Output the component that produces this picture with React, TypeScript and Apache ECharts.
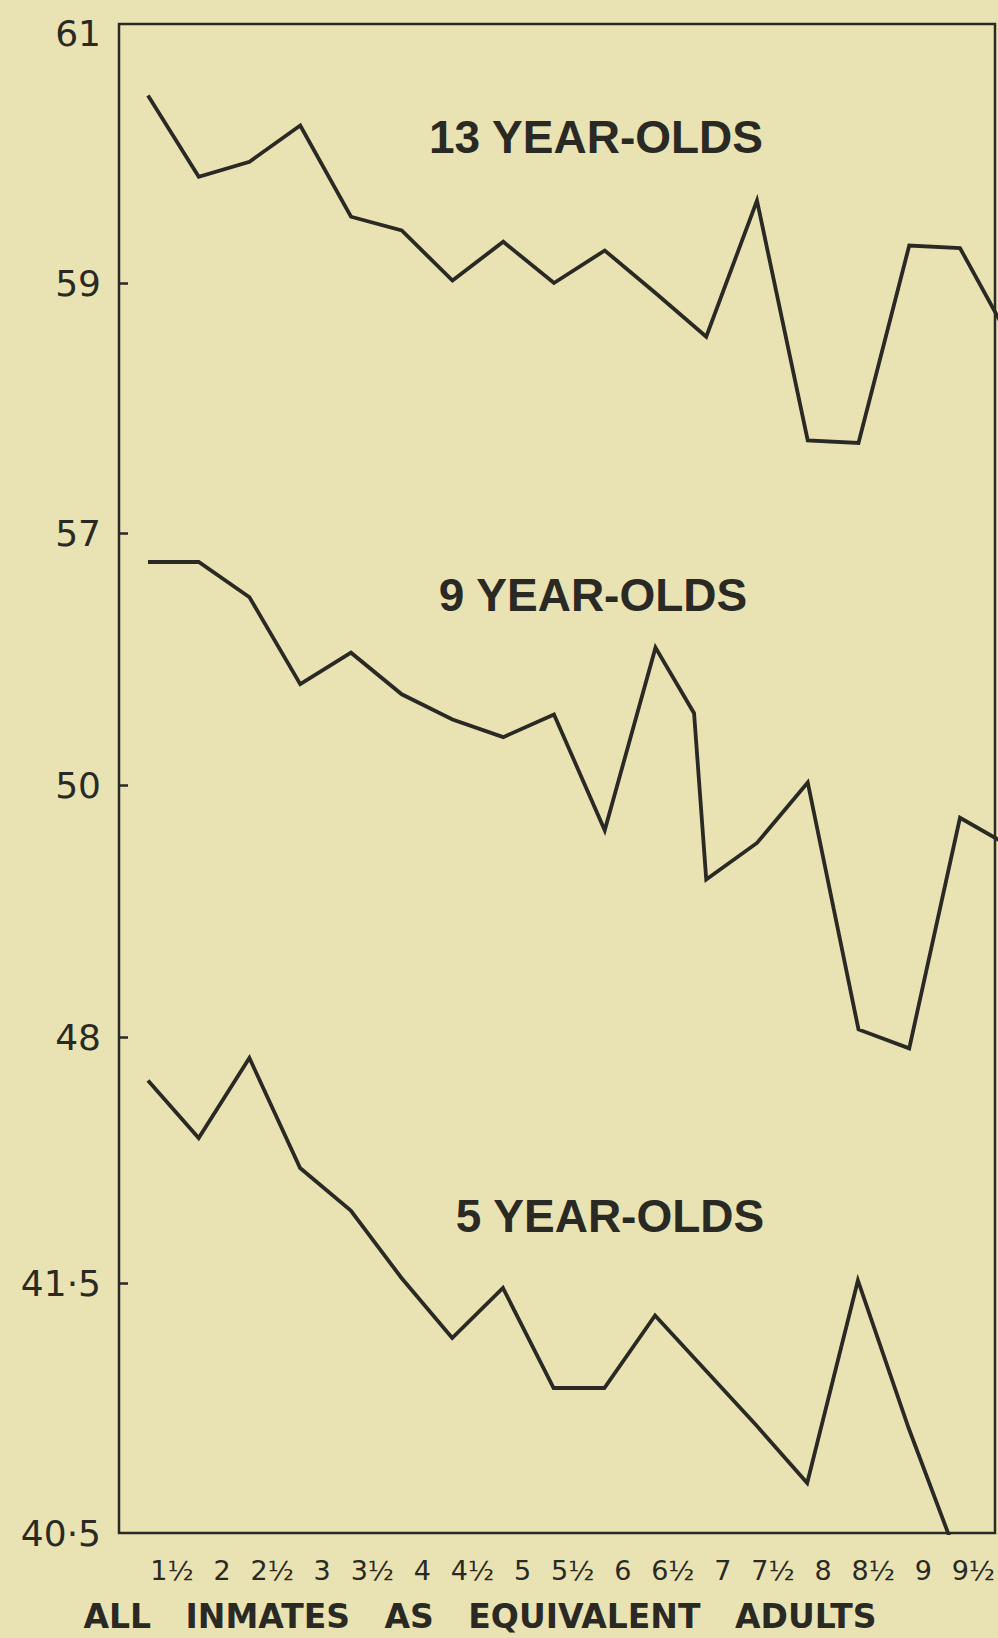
import React, { useEffect, useRef } from 'react';
import * as echarts from 'echarts';

// ---- data ----
const ages = [1.5, 2, 2.5, 3, 3.5, 4, 4.5, 5, 5.5, 6, 6.5, 7, 7.5, 8, 8.5, 9, 9.5, 10];
const xTickValues = [1.5, 2, 2.5, 3, 3.5, 4, 4.5, 5, 5.5, 6, 6.5, 7, 7.5, 8, 8.5, 9, 9.5];
const xTickLabels = ['1½', '2', '2½', '3', '3½', '4', '4½', '5', '5½', '6', '6½', '7', '7½', '8', '8½', '9', '9½'];
const yTicks13 = [57, 59, 61];
const yTicks9 = [48, 50];
const yTicks5 = [40.5, 41.5];

const thirteenYearOlds = [60.5, 59.85, 59.97, 60.26, 59.53, 59.42, 59.02, 59.33, 59.0, 59.26, 58.92, 58.57, 59.66, 57.74, 57.72, 59.3, 59.28, 58.54];
const nineYearOlds = [51.77, 51.77, 51.49, 50.8, 51.05, 50.72, 50.52, 50.38, 50.56, 49.64, 51.09, 49.25, 49.54, 50.02, 48.06, 47.91, 49.74, 49.51];
const nineYearOldsKink = [6.88, 50.57]; // extra bend drawn in the 9 year-olds line just before 7
const fiveYearOlds = [42.31, 42.08, 42.4, 41.96, 41.79, 41.52, 41.28, 41.48, 41.08, 41.08, 41.37, 41.15, 40.93, 40.7, 41.51, 40.92, 40.38, null];

const seriesNames = ['13 YEAR-OLDS', '9 YEAR-OLDS', '5 YEAR-OLDS'];
const xAxisTitle = 'ALL   INMATES   AS   EQUIVALENT   ADULTS';

// ---- styling ----
const INK = '#2a2924';
const BG = '#e9e3b3';
const TICK_FONT = 'DejaVu Sans';

const pairs = (vals: (number | null)[]) =>
  ages.map((a, i) => [a, vals[i]]).filter((p) => p[1] !== null && p[1] !== undefined);

const fmtY = (v: number) => String(v).replace('.', '·');

export default function App() {
  const ref = useRef<HTMLDivElement>(null);

  useEffect(() => {
    document.body.style.margin = '0';
    document.body.style.background = BG;
    if (!ref.current) return;
    const chart = echarts.init(ref.current, undefined, { renderer: 'svg' });

    const ninePairs = pairs(nineYearOlds);
    ninePairs.push(nineYearOldsKink);
    ninePairs.sort((a: any, b: any) => a[0] - b[0]);

    const X_MIN = 1.2143;
    const X_MAX = 9.845;

    const yAxis = (gridIndex: number, min: number, max: number, labels: number[], ticks: number[]) => ({
      type: 'value',
      gridIndex,
      min,
      max,
      axisLine: { show: false },
      splitLine: { show: false },
      axisTick: {
        show: true,
        inside: true,
        length: 9,
        customValues: ticks,
        lineStyle: { color: INK, width: 2.5 },
      },
      axisLabel: {
        customValues: labels,
        formatter: (v: number) => (labels.indexOf(v) >= 0 ? fmtY(v) : ''),
        margin: 18,
        fontSize: 36,
        fontFamily: TICK_FONT,
        color: INK,
      },
    });

    const lineStyle = { color: INK, width: 3.8, join: 'miter' };

    const option: any = {
      animation: false,
      backgroundColor: BG,
      grid: [
        { left: 119, right: 3, top: 33, height: 500, containLabel: false },
        { left: 119, right: 3, top: 533, height: 504, containLabel: false },
        { left: 119, right: 3, top: 1033, height: 500, containLabel: false },
      ],
      xAxis: [
        { type: 'value', gridIndex: 0, min: X_MIN, max: X_MAX, show: false },
        { type: 'value', gridIndex: 1, min: X_MIN, max: X_MAX, show: false },
        { type: 'value', gridIndex: 2, min: X_MIN, max: X_MAX, show: false, position: 'top' },
        {
          type: 'value',
          gridIndex: 2,
          position: 'bottom',
          min: 0.9713,
          max: 9.7095,
          axisLine: { show: false },
          axisTick: { show: false },
          splitLine: { show: false },
          axisLabel: {
            customValues: xTickValues,
            formatter: (v: number) => {
              const i = xTickValues.indexOf(v);
              return i >= 0 ? xTickLabels[i] : '';
            },
            margin: 24,
            fontSize: 27,
            fontFamily: TICK_FONT,
            color: INK,
          },
        },
      ],
      yAxis: [
        yAxis(0, 57, 61, yTicks13, [57, 59]),
        yAxis(1, 48, 52, yTicks9, yTicks9),
        yAxis(2, 40.5, 42.5, yTicks5, [41.5]),
      ],
      series: [
        {
          name: seriesNames[0],
          type: 'line',
          xAxisIndex: 0,
          yAxisIndex: 0,
          data: pairs(thirteenYearOlds),
          symbol: 'none',
          clip: true,
          lineStyle,
        },
        {
          name: seriesNames[1],
          type: 'line',
          xAxisIndex: 1,
          yAxisIndex: 1,
          data: ninePairs,
          symbol: 'none',
          clip: false,
          lineStyle,
        },
        {
          name: seriesNames[2],
          type: 'line',
          xAxisIndex: 2,
          yAxisIndex: 2,
          data: pairs(fiveYearOlds),
          symbol: 'none',
          clip: true,
          lineStyle,
        },
      ],
      graphic: [
        {
          type: 'rect',
          shape: { x: 119, y: 24, width: 876, height: 1509 },
          style: { fill: 'none', stroke: INK, lineWidth: 2.5 },
          z: 10,
          silent: true,
        },
        {
          type: 'text',
          x: 596,
          y: 137,
          style: {
            text: seriesNames[0],
            fontFamily: 'Liberation Sans',
            fontWeight: 'bold',
            fontSize: 46,
            fill: INK,
            align: 'center',
            verticalAlign: 'middle',
          },
        },
        {
          type: 'text',
          x: 593,
          y: 595,
          style: {
            text: seriesNames[1],
            fontFamily: 'Liberation Sans',
            fontWeight: 'bold',
            fontSize: 46,
            fill: INK,
            align: 'center',
            verticalAlign: 'middle',
          },
        },
        {
          type: 'text',
          x: 610,
          y: 1216,
          style: {
            text: seriesNames[2],
            fontFamily: 'Liberation Sans',
            fontWeight: 'bold',
            fontSize: 46,
            fill: INK,
            align: 'center',
            verticalAlign: 'middle',
          },
        },
        {
          type: 'text',
          x: 480,
          y: 1616,
          style: {
            text: xAxisTitle,
            fontFamily: 'DejaVu Sans',
            fontWeight: 'bold',
            fontSize: 33,
            fill: INK,
            align: 'center',
            verticalAlign: 'middle',
          },
        },
      ],
    };

    chart.setOption(option);
    return () => chart.dispose();
  }, []);

  return <div ref={ref} style={{ width: 998, height: 1638, background: BG }} />;
}
